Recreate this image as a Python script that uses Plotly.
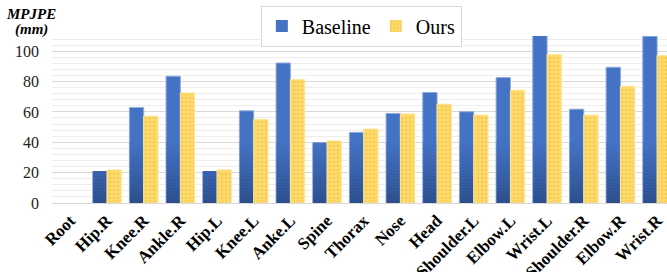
import plotly.graph_objects as go

categories = ["Root", "Hip.R", "Knee.R", "Ankle.R", "Hip.L", "Knee.L", "Anke.L", "Spine",
              "Thorax", "Nose", "Head", "Shoulder.L", "Elbow.L", "Wrist.L", "Shoulder.R",
              "Elbow.R", "Wrist.R"]
baseline = [0, 20.7, 62.9, 83.5, 20.7, 60.7, 92.2, 39.7, 46.5, 59.0, 72.8, 60.1, 82.6, 110.4,
            61.8, 89.4, 109.9]
ours = [0, 21.8, 57.2, 72.5, 21.8, 55.1, 81.3, 40.9, 48.7, 58.6, 65.1, 57.9, 74.3, 97.7,
        57.9, 76.9, 97.2]
y_ticks = [0, 20, 40, 60, 80, 100]

SERIF = "Liberation Serif, Times New Roman, serif"
BLUE = (68, 114, 196)
BLUE_DARK = (44, 78, 140)
BAR_W = 0.39

fig = go.Figure()

fig.add_trace(go.Bar(
    name="Baseline", x=categories, y=baseline, offset=-BAR_W, width=BAR_W,
    marker=dict(color="rgb(%d,%d,%d)" % BLUE,
                line=dict(color="#8FAADC", width=[1 if v > 0 else 0 for v in baseline])),
))

# gradient shading at the bottom of the blue bars (bands derived from the data)
N_BANDS, STEP = 20, 2.0
for k in range(N_BANDS):
    lo, hi = k * STEP, (k + 1) * STEP
    t = (k + 0.5) / N_BANDS
    col = tuple(int(round(BLUE_DARK[i] + (BLUE[i] - BLUE_DARK[i]) * t)) for i in range(3))
    hs = [max(0.0, min(v, hi) - lo) for v in baseline]
    fig.add_trace(go.Bar(
        x=categories, y=hs, base=[lo] * len(hs), offset=-BAR_W + 0.012, width=BAR_W - 0.024,
        marker=dict(color="rgb(%d,%d,%d)" % col, line=dict(width=0)),
        showlegend=False, hoverinfo="skip",
    ))

fig.add_trace(go.Bar(
    name="Ours", x=categories, y=ours, offset=0, width=BAR_W,
    marker=dict(color="#FFD966",
                line=dict(color="#FFE699", width=[1 if v > 0 else 0 for v in ours]),
                pattern=dict(shape=".", fgcolor="#D9B85A", bgcolor="#FFD966",
                             size=4, solidity=0.25)),
))

fig.update_layout(
    width=667, height=272,
    margin=dict(l=52, r=0, t=35.5, b=68.7, autoexpand=False),
    barmode="overlay",
    plot_bgcolor="white", paper_bgcolor="white",
    font=dict(family=SERIF, color="#000000"),
    showlegend=True,
    legend=dict(
        orientation="h", x=0.503, xanchor="center", y=1.182, yanchor="top",
        bordercolor="#D9D9D9", borderwidth=1, bgcolor="white",
        font=dict(family=SERIF, size=20, color="#000000"),
        itemwidth=30, tracegroupgap=0,
    ),
    xaxis=dict(
        type="category", range=[-0.5, 16.27], automargin=False,
        tickangle=-45, tickfont=dict(family=SERIF, size=17, color="#000000", weight="bold"),
        showline=True, linecolor="#D9D9D9", linewidth=1,
        showgrid=False, ticks="",
    ),
    yaxis=dict(
        range=[0, 110], tickvals=y_ticks, automargin=False,
        tickfont=dict(family=SERIF, size=16, color="#222222"),
        showgrid=True, gridcolor="#D9D9D9", gridwidth=1,
        minor=dict(dtick=4, showgrid=True, gridcolor="#EDEDED", gridwidth=1),
        zeroline=False, ticks="", ticklabelstandoff=12,
    ),
    annotations=[
        dict(text="<b><i>MPJPE</i></b>", xref="paper", yref="paper",
             x=-0.034, xanchor="center", y=1.0, yanchor="middle", yshift=22,
             showarrow=False, font=dict(family=SERIF, size=15, color="#000000")),
        dict(text="<b><i>(mm)</i></b>", xref="paper", yref="paper",
             x=-0.034, xanchor="center", y=1.0, yanchor="middle", yshift=6.5,
             showarrow=False, font=dict(family=SERIF, size=15, color="#000000")),
    ],
)

fig.write_html("out.html", config={"displayModeBar": False},
               post_script="document.body.style.margin='0';")
